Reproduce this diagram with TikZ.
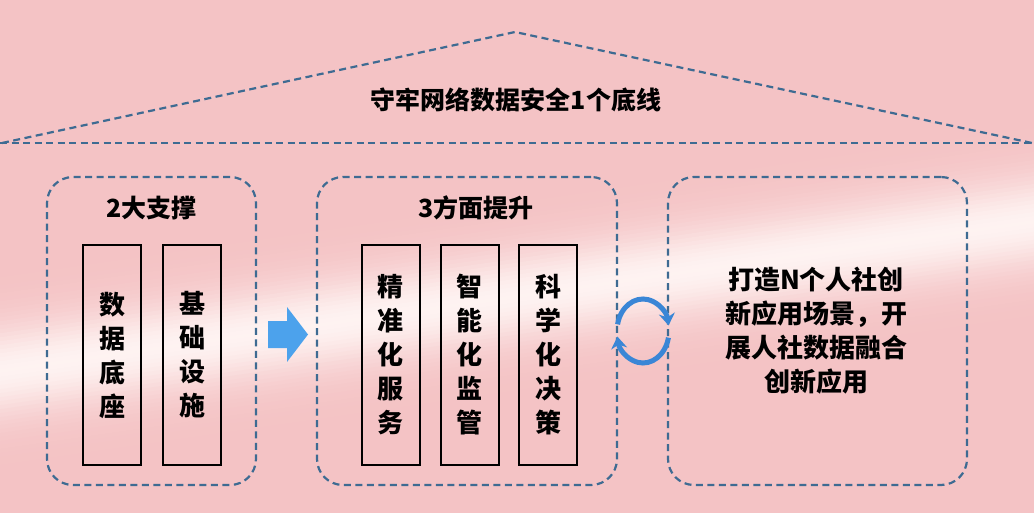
\documentclass[tikz,border=0pt]{standalone}
\usepackage{fontspec}
\setmainfont{Noto Sans CJK SC}
\usetikzlibrary{arrows.meta,calc}
\definecolor{bgpink}{HTML}{F4C3C5}
\definecolor{bandwhite}{HTML}{FFF8F6}
\definecolor{dashblue}{HTML}{3E6B92}
\definecolor{arrowblue}{HTML}{4CA2EC}
\definecolor{cycblue}{HTML}{3A86D6}
\tikzset{
  groupbox/.style={draw=dashblue, line width=2.2pt, dash pattern=on 7pt off 4.5pt,
    rounded corners=26pt, inner sep=0pt},
  pillar/.style={draw=black, line width=2pt, minimum width=58pt, minimum height=220pt,
    inner sep=0pt, align=center, font=\bfseries\fontsize{26}{34}\selectfont},
  titletext/.style={font=\bfseries\fontsize{25}{30}\selectfont, inner sep=0pt},
  roofline/.style={draw=dashblue, line width=2.2pt, dash pattern=on 7pt off 4.5pt},
  cyc/.style={draw=cycblue, line width=5pt, -{Stealth[length=12pt,width=16pt]}}
}
\begin{document}
\begin{tikzpicture}[x=1pt,y=-1pt]
\useasboundingbox (0,0) rectangle (1034,513);
% background
\begin{scope}
\clip (0,0) rectangle (1034,513);
\fill[bgpink] (0,0) rectangle (1034,513);
\foreach \d in {-200,-196,...,300}{
  \pgfmathtruncatemacro\f{90*exp(-((\d)/45)^2)}
  \fill[bandwhite!\f!bgpink] (-5,370+\d) -- (1040,219+\d) -- (1040,224+\d) -- (-5,375+\d) -- cycle;
}
\end{scope}
% roof
\coordinate (rl) at (2,143);
\coordinate (ra) at (515,32);
\coordinate (rr) at (1032,143);
\coordinate (bl) at (0,143);
\coordinate (br) at (1034,143);
\draw[roofline] (rl) -- (ra) -- (rr);
\draw[roofline] (bl) -- (br);
\node[titletext] (roof) at (516,100) {守牢网络数据安全1个底线};
% group boxes
\node[groupbox, minimum width=209pt, minimum height=308pt] (g1) at (151.5,331) {};
\node[groupbox, minimum width=300pt, minimum height=308pt] (g2) at (467,331) {};
\node[groupbox, minimum width=299pt, minimum height=308pt] (g3) at (817.5,331) {};
\node[titletext] (t1) at (151.5,208) {2大支撑};
\node[titletext] (t2) at (476,208) {3方面提升};
% pillars
\node[pillar] (p1) at (112,355) {数\\据\\底\\座};
\node[pillar] (p2) at (192,355) {基\\础\\设\\施};
\node[pillar] (p3) at (390.5,355) {精\\准\\化\\服\\务};
\node[pillar] (p4) at (469.5,355) {智\\能\\化\\监\\管};
\node[pillar] (p5) at (548,355) {科\\学\\化\\决\\策};
% right text
\node[align=center, inner sep=0pt, font=\bfseries\fontsize{26}{34}\selectfont] (rt) at (816,331)
  {打造N个人社创\\新应用场景，开\\展人社数据融合\\创新应用};
% block arrow
\fill[arrowblue] (268,321) -- (287,321) -- (287,307) -- (308,334.5) -- (287,362) -- (287,348) -- (268,348) -- cycle;
% cycle arrows
\coordinate (cc) at (643,331);
\draw[cyc] ($(cc)+({26*cos(192)},{32*sin(192)})$) arc[start angle=192, end angle=350, x radius=26, y radius=32];
\draw[cyc] ($(cc)+({26*cos(12)},{32*sin(12)})$) arc[start angle=12, end angle=170, x radius=26, y radius=32];
\end{tikzpicture}
\end{document}
